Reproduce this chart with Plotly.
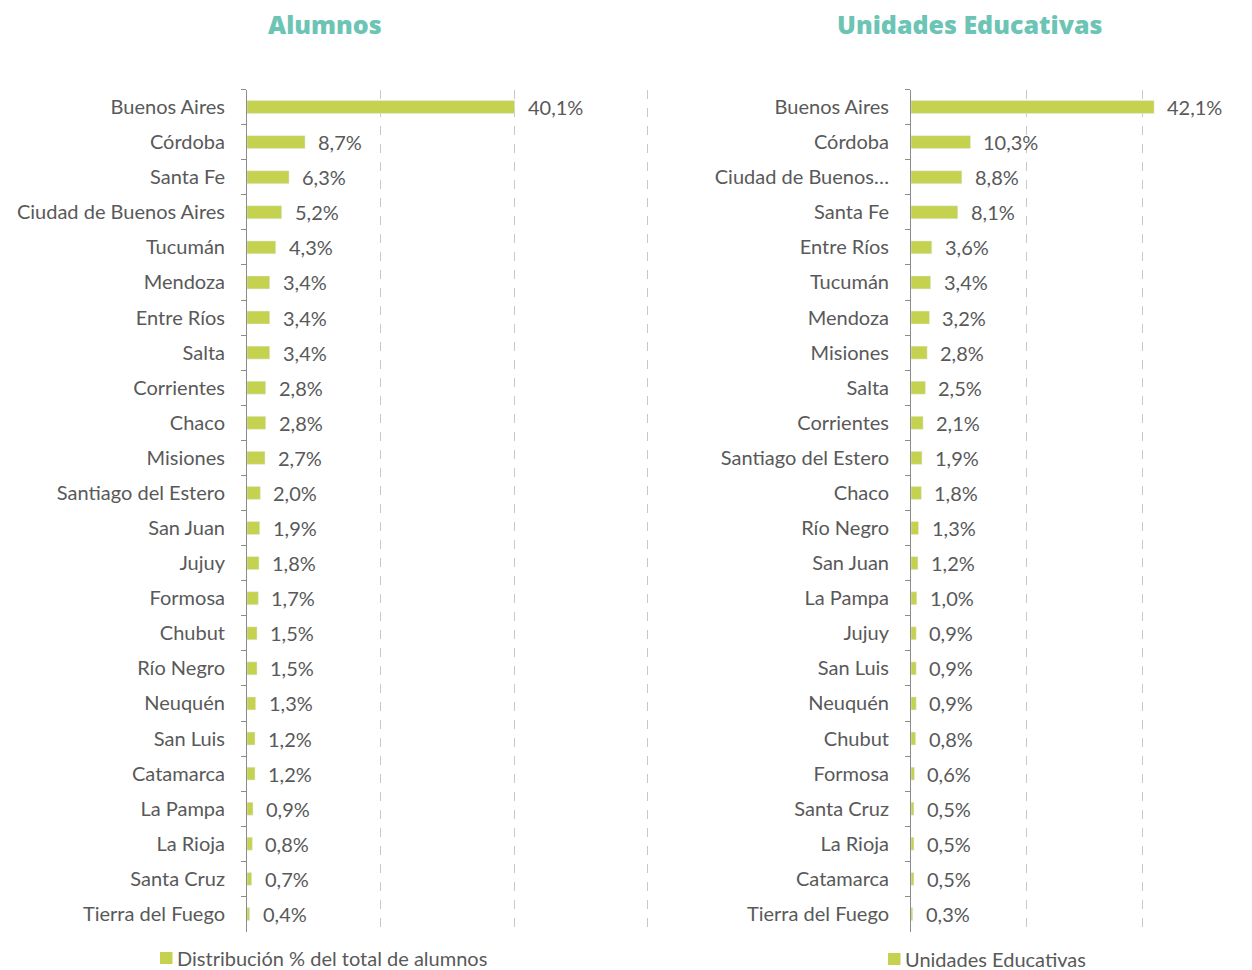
import plotly.graph_objects as go

# Alumnos: share of total students by province (%)
alumnos_prov = ["Buenos Aires", "Córdoba", "Santa Fe", "Ciudad de Buenos Aires", "Tucumán",
                "Mendoza", "Entre Ríos", "Salta", "Corrientes", "Chaco", "Misiones",
                "Santiago del Estero", "San Juan", "Jujuy", "Formosa", "Chubut", "Río Negro",
                "Neuquén", "San Luis", "Catamarca", "La Pampa", "La Rioja", "Santa Cruz",
                "Tierra del Fuego"]
alumnos_pct = [40.1, 8.7, 6.3, 5.2, 4.3, 3.4, 3.4, 3.4, 2.8, 2.8, 2.7, 2.0, 1.9, 1.8, 1.7,
               1.5, 1.5, 1.3, 1.2, 1.2, 0.9, 0.8, 0.7, 0.4]

# Unidades educativas: share of schools by province (%)
unidades_prov = ["Buenos Aires", "Córdoba", "Ciudad de Buenos…", "Santa Fe", "Entre Ríos",
                 "Tucumán", "Mendoza", "Misiones", "Salta", "Corrientes", "Santiago del Estero",
                 "Chaco", "Río Negro", "San Juan", "La Pampa", "Jujuy", "San Luis", "Neuquén",
                 "Chubut", "Formosa", "Santa Cruz", "La Rioja", "Catamarca", "Tierra del Fuego"]
unidades_pct = [42.1, 10.3, 8.8, 8.1, 3.6, 3.4, 3.2, 2.8, 2.5, 2.1, 1.9, 1.8, 1.3, 1.2, 1.0,
                0.9, 0.9, 0.9, 0.8, 0.6, 0.5, 0.5, 0.5, 0.3]

legend_left = "Distribución % del total de alumnos"
legend_right = "Unidades Educativas"

W, H = 1252, 970
BAR = "#C5D250"
TEXT = "#595959"
TEAL = "#6CC4B4"
GRID = "#C8C8C8"
AXIS = "#8C8C8C"
FONT = "Lato"
FS = 20

def px_x(p):
    return p / W

def px_y(p):
    return 1 - p / H

fig = go.Figure()

fig.add_trace(go.Bar(
    x=alumnos_pct, y=alumnos_prov, orientation="h", marker_color=BAR,
    name=legend_left, xaxis="x", yaxis="y", hoverinfo="skip",
))
fig.add_trace(go.Bar(
    x=unidades_pct, y=unidades_prov, orientation="h", marker_color=BAR,
    name=legend_right, xaxis="x2", yaxis="y2", hoverinfo="skip",
))

# value labels to the right of each bar
for xa, ya, cats, vals in (("x", "y", alumnos_prov, alumnos_pct),
                           ("x2", "y2", unidades_prov, unidades_pct)):
    for c, v in zip(cats, vals):
        fig.add_annotation(
            x=v, y=c, xref=xa, yref=ya, text=f"{v:.1f}%".replace(".", ","),
            showarrow=False, xanchor="left", xshift=11,
            font=dict(family=FONT, size=FS, color=TEXT),
        )

top, bottom = 89.5, 931.5
left_x0, left_per = 247, 133.5 / 20
right_x0, right_per = 911, 115.5 / 20
left_max = 60.3
right_max = (W - right_x0) / right_per

common_x = dict(
    showgrid=True, gridcolor=GRID, griddash="dash", gridwidth=1,
    dtick=20, tick0=0, showticklabels=False, zeroline=False,
    showline=False, ticks="", fixedrange=True,
)
common_y = dict(
    autorange="reversed", showline=True, linecolor=AXIS, linewidth=1,
    ticks="outside", tickson="boundaries", ticklen=5, tickcolor=AXIS,
    tickfont=dict(family=FONT, size=FS, color=TEXT), ticklabelstandoff=17,
    showgrid=False, fixedrange=True,
)

fig.update_layout(
    width=W, height=H, margin=dict(l=0, r=0, t=0, b=0, autoexpand=False),
    paper_bgcolor="white", plot_bgcolor="white",
    bargap=0.63, showlegend=False,
    xaxis=dict(domain=[px_x(left_x0), px_x(left_x0 + left_max * left_per)],
               range=[0, left_max], anchor="y", **common_x),
    yaxis=dict(domain=[px_y(bottom), px_y(top)], anchor="x",
               categoryorder="array", categoryarray=alumnos_prov, **common_y),
    xaxis2=dict(domain=[px_x(right_x0), 1.0], range=[0, right_max], anchor="y2", **common_x),
    yaxis2=dict(domain=[px_y(bottom), px_y(top)], anchor="x2",
                categoryorder="array", categoryarray=unidades_prov, **common_y),
)

# legend keys: a small square swatch followed by the series name
for name, sx, sy in ((legend_left, 160, 958), (legend_right, 888, 959)):
    fig.add_shape(type="rect", xref="paper", yref="paper",
                  x0=px_x(sx), x1=px_x(sx + 12.5), y0=px_y(sy + 6), y1=px_y(sy - 6),
                  fillcolor=BAR, line_width=0)
    fig.add_annotation(x=px_x(sx + 16), y=px_y(sy), xref="paper", yref="paper",
                       text=name, showarrow=False, xanchor="left", yanchor="middle",
                       borderpad=0, font=dict(family=FONT, size=FS, color=TEXT))

for txt, cx in (("Alumnos", 325), ("Unidades Educativas", 969)):
    fig.add_annotation(
        x=px_x(cx), y=px_y(24), xref="paper", yref="paper", text=txt,
        showarrow=False, xanchor="center", yanchor="middle",
        font=dict(family="Open Sans", size=25, color=TEAL, weight=800),
    )

fig.write_html("out.html")
